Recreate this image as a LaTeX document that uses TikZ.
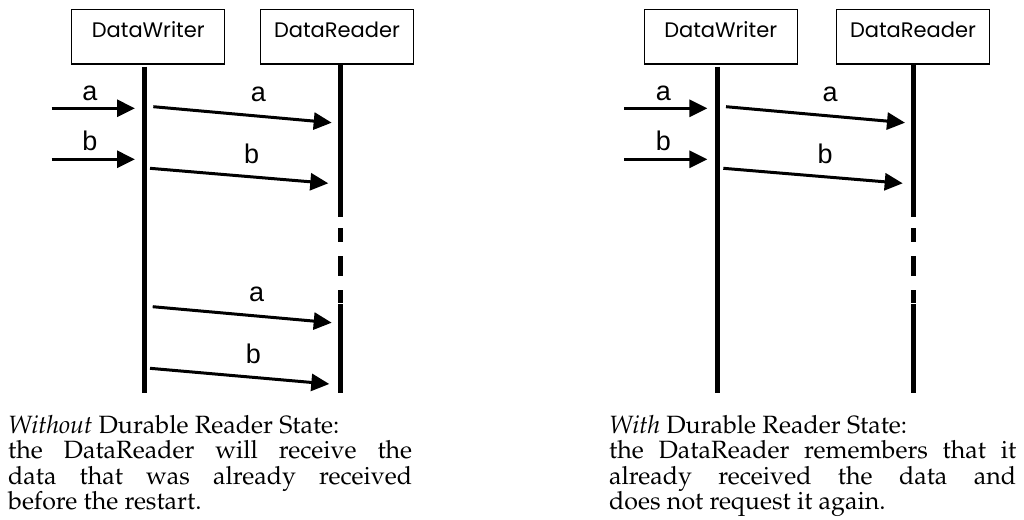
\documentclass[tikz,border=0pt]{standalone}
\usepackage[T1]{fontenc}
\usepackage{fontspec}
\usetikzlibrary{arrows.meta}
\newfontfamily\boxfont{Poppins}
\newfontfamily\lblfont{Liberation Sans}
\newcommand{\capfont}{\fontencoding{T1}\fontfamily{ppl}\fontsize{25}{28}\selectfont}
\tikzset{
  objbox/.style={draw, line width=1.2pt, inner sep=0pt, minimum width=153pt,
     text height=28pt, text depth=26.7pt, font=\boxfont\fontsize{21}{24}\selectfont},
  life/.style={line width=4.5pt, line cap=butt},
  msg/.style={line width=3pt, -{Triangle[length=18pt,width=17pt]}},
  lbl/.style={anchor=base, inner sep=0pt, font=\lblfont\fontsize{27}{30}\selectfont},
  captxt/.style={anchor=base west, inner sep=0pt, font=\capfont}
}
\begin{document}
\begin{tikzpicture}[x=1pt,y=-1pt]
\useasboundingbox (0,0) rectangle (1024,519);
% ---------- left panel ----------
\node[objbox] (w1) at (148.3,36.7) {DataWriter};
\node[objbox] (r1) at (337,36.7) {DataReader};
\coordinate (w1t) at (144.7,66.7); \coordinate (w1b) at (144.7,392.7);
\draw[life] (w1t) -- (w1b);
\coordinate (r1a) at (340.3,65); \coordinate (r1b) at (340.3,216.7);
\coordinate (r1c) at (340.3,228); \coordinate (r1d) at (340.3,242);
\coordinate (r1e) at (340.3,256); \coordinate (r1f) at (340.3,276);
\coordinate (r1g) at (340.3,290); \coordinate (r1h) at (340.3,302.7);
\coordinate (r1i) at (340.3,304); \coordinate (r1j) at (340.3,392.7);
\draw[life] (r1a) -- (r1b);
\draw[life] (r1c) -- (r1d);
\draw[life] (r1e) -- (r1f);
\draw[life] (r1g) -- (r1h);
\draw[life] (r1i) -- (r1j);
\coordinate (ia1s) at (51.7,108.3); \coordinate (ia1e) at (135,108.3);
\coordinate (ib1s) at (51.7,159.3); \coordinate (ib1e) at (135,159.3);
\draw[msg] (ia1s) -- (ia1e);
\draw[msg] (ib1s) -- (ib1e);
\node[lbl] (lia1) at (90,100) {a};
\node[lbl] (lib1) at (90,150) {b};
\coordinate (ma1s) at (153.3,106.7); \coordinate (ma1e) at (331.7,122.7);
\coordinate (mb1s) at (150,168.3); \coordinate (mb1e) at (328.3,183.3);
\draw[msg] (ma1s) -- (ma1e);
\draw[msg] (mb1s) -- (mb1e);
\node[lbl] (lma1) at (258.3,101.7) {a};
\node[lbl] (lmb1) at (251.7,163.3) {b};
\coordinate (ma2s) at (152.7,306.7); \coordinate (ma2e) at (331.7,322.7);
\coordinate (mb2s) at (150,368.3); \coordinate (mb2e) at (329.3,384);
\draw[msg] (ma2s) -- (ma2e);
\draw[msg] (mb2s) -- (mb2e);
\node[lbl] (lma2) at (256.7,301.7) {a};
\node[lbl] (lmb2) at (253.3,363.3) {b};
\node[captxt] (c1a) at (8,433.3) {\textit{Without} Durable Reader State:};
\node[captxt] (c1b) at (8,458.6) {\makebox[404pt][s]{the DataReader will receive the}};
\node[captxt] (c1c) at (8,484) {\makebox[404pt][s]{data that was already received}};
\node[captxt] (c1d) at (8,509.3) {before the restart.};
% ---------- right panel ----------
\node[objbox] (w2) at (720.7,36.7) {DataWriter};
\node[objbox] (r2) at (913,36.7) {DataReader};
\coordinate (w2t) at (717.5,66.7); \coordinate (w2b) at (717.5,392.7);
\draw[life] (w2t) -- (w2b);
\coordinate (r2a) at (913.5,65); \coordinate (r2b) at (913.5,216.7);
\coordinate (r2c) at (913.5,228); \coordinate (r2d) at (913.5,242);
\coordinate (r2e) at (913.5,256); \coordinate (r2f) at (913.5,276);
\coordinate (r2g) at (913.5,290); \coordinate (r2h) at (913.5,302.7);
\coordinate (r2i) at (913.5,304); \coordinate (r2j) at (913.5,392.7);
\draw[life] (r2a) -- (r2b);
\draw[life] (r2c) -- (r2d);
\draw[life] (r2e) -- (r2f);
\draw[life] (r2g) -- (r2h);
\draw[life] (r2i) -- (r2j);
\coordinate (ia2s) at (624,108.3); \coordinate (ia2e) at (707.3,108.3);
\coordinate (ib2s) at (624,159.3); \coordinate (ib2e) at (707.3,159.3);
\draw[msg] (ia2s) -- (ia2e);
\draw[msg] (ib2s) -- (ib2e);
\node[lbl] (lia2) at (663.3,100) {a};
\node[lbl] (lib2) at (663.3,150) {b};
\coordinate (ma3s) at (726,106.7); \coordinate (ma3e) at (905,122.7);
\coordinate (mb3s) at (723.3,168.3); \coordinate (mb3e) at (902.7,183.3);
\draw[msg] (ma3s) -- (ma3e);
\draw[msg] (mb3s) -- (mb3e);
\node[lbl] (lma3) at (830,101.7) {a};
\node[lbl] (lmb3) at (825,163.3) {b};
\node[captxt] (c2a) at (609,433.3) {\textit{With} Durable Reader State:};
\node[captxt] (c2b) at (609,458.6) {\makebox[407pt][s]{the DataReader remembers that it}};
\node[captxt] (c2c) at (609,484) {\makebox[407pt][s]{already received the data and}};
\node[captxt] (c2d) at (609,509.3) {does not request it again.};
\end{tikzpicture}
\end{document}
